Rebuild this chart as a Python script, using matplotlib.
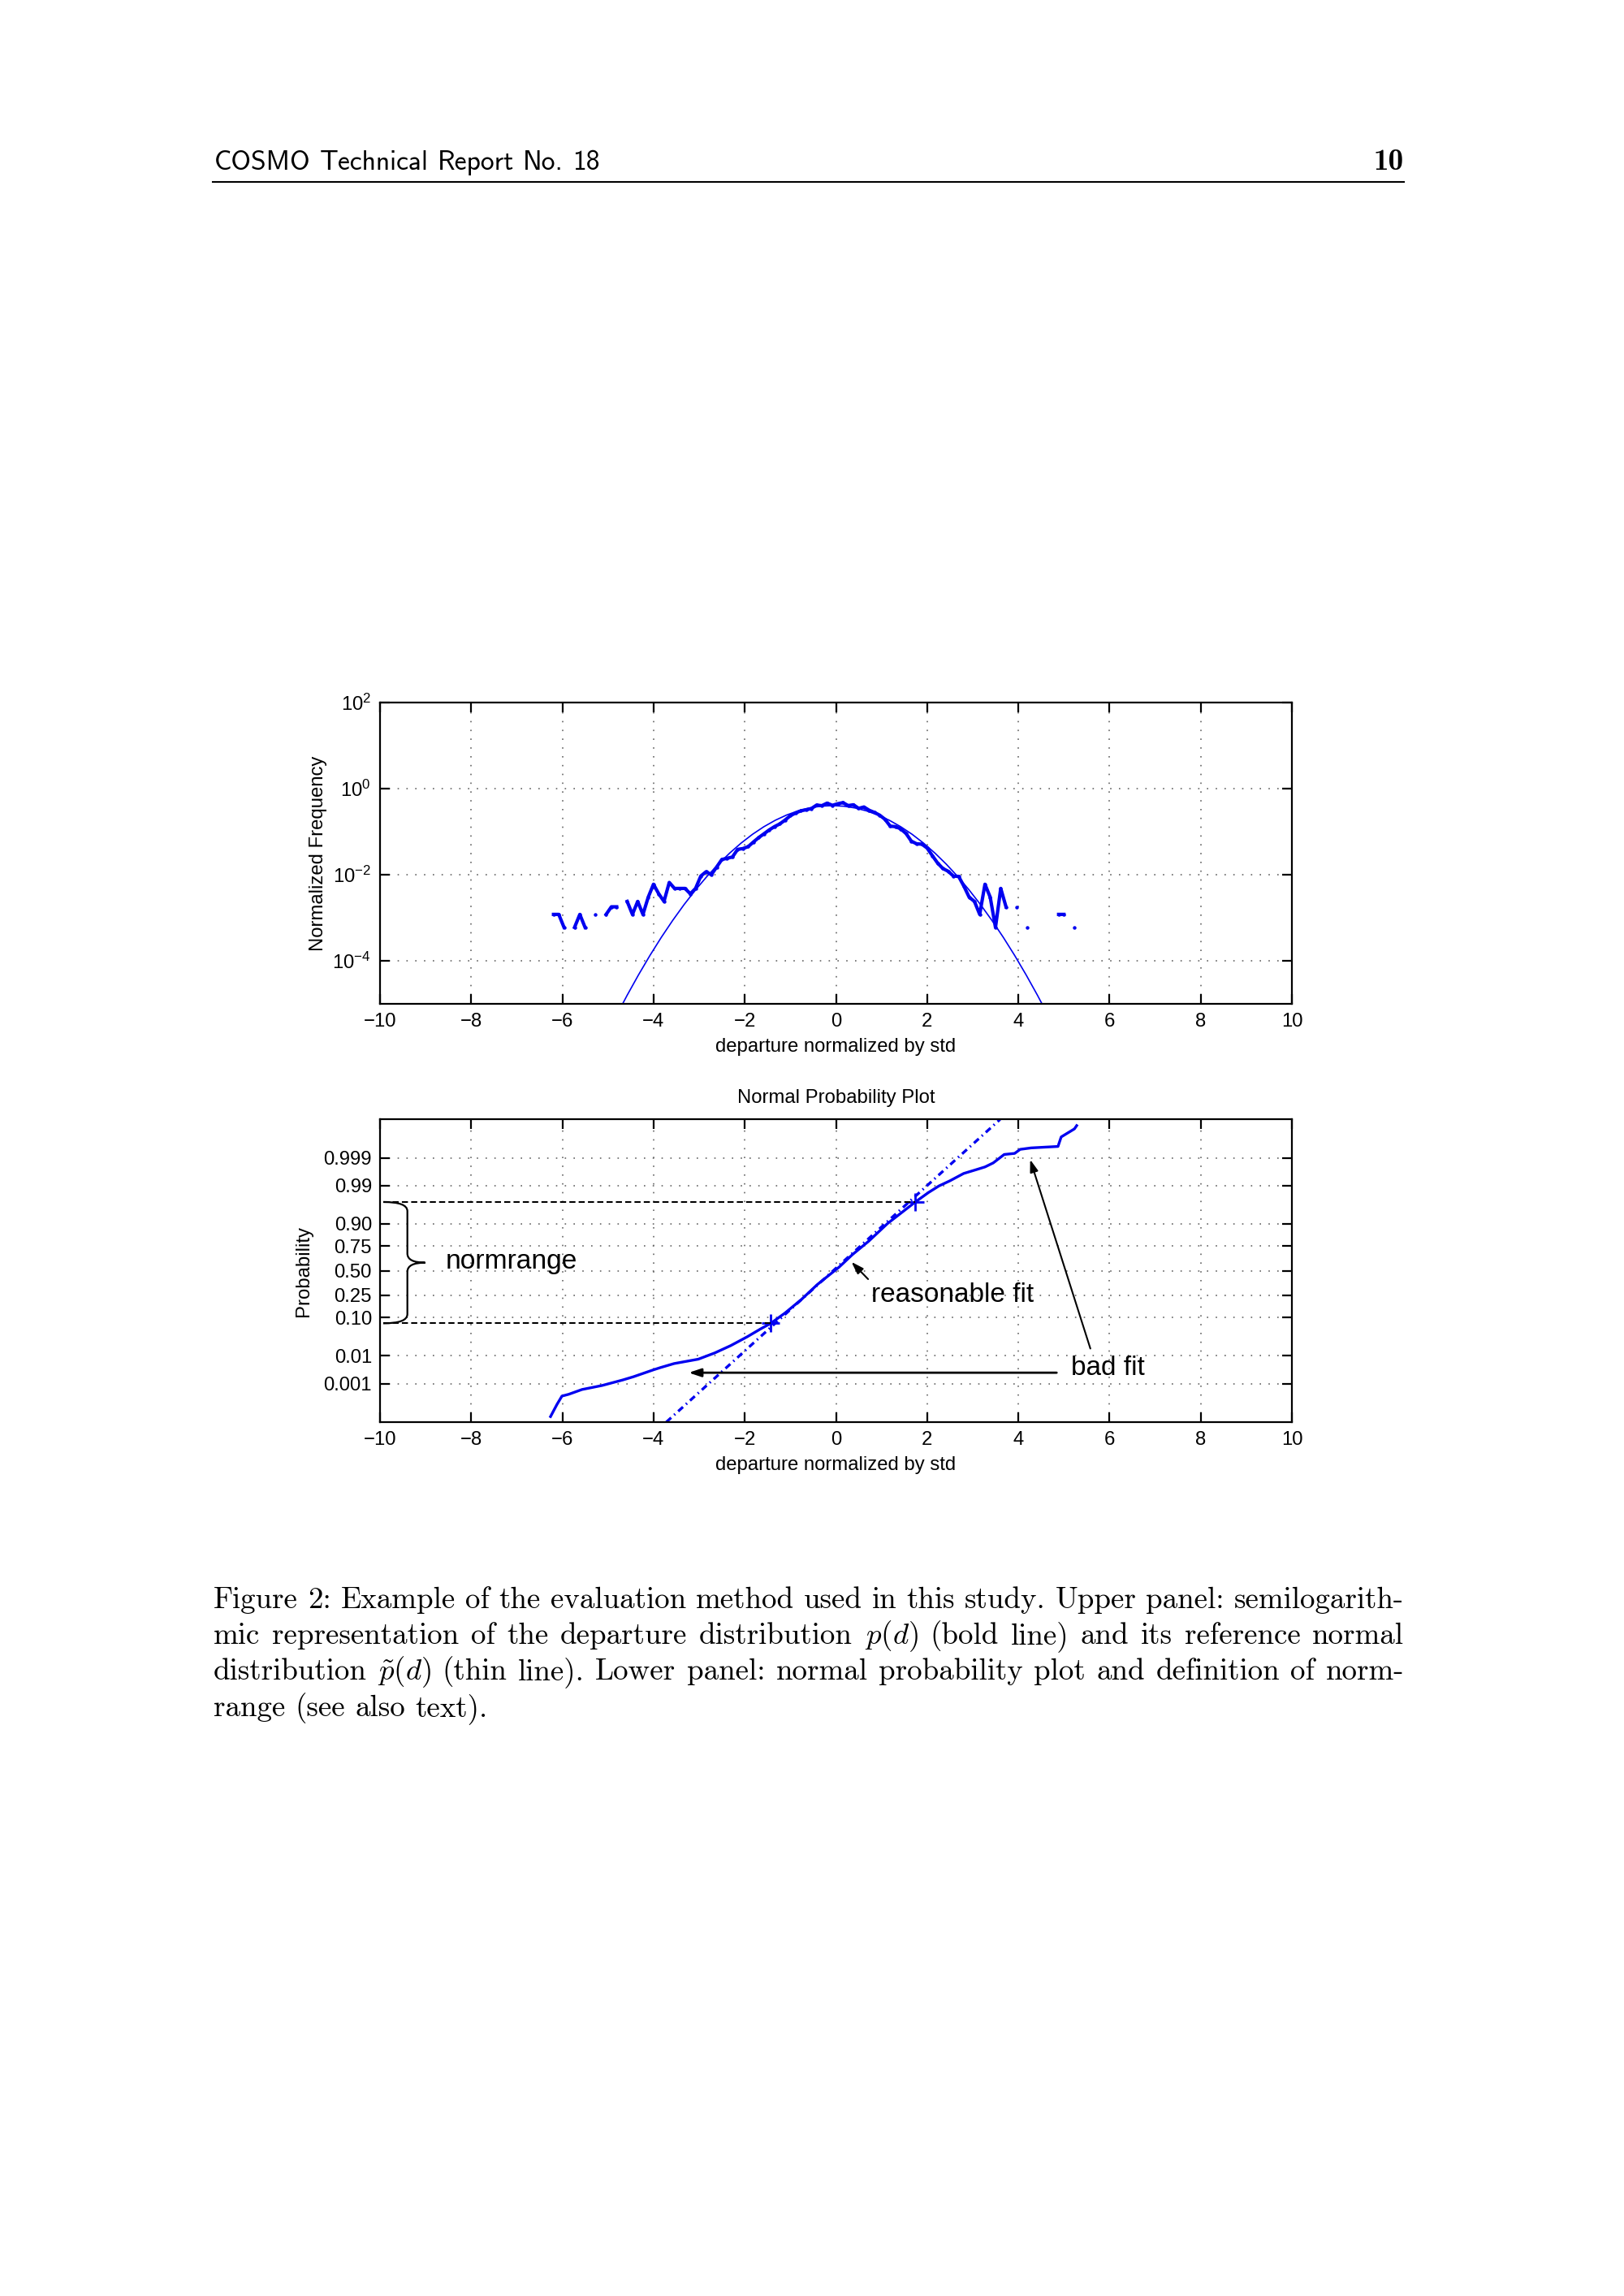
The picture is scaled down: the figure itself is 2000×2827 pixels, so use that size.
import math
import numpy as np
import matplotlib
matplotlib.use('Agg')
import matplotlib.pyplot as plt
from matplotlib.path import Path
from matplotlib.patches import PathPatch
from matplotlib.lines import Line2D
from matplotlib.ticker import FixedLocator, NullLocator, FuncFormatter

plt.rcParams['font.family'] = ['Liberation Sans', 'DejaVu Sans']
plt.rcParams['mathtext.fontset'] = 'custom'
plt.rcParams['mathtext.rm'] = 'Liberation Sans'
plt.rcParams['mathtext.it'] = 'Liberation Sans:italic'
plt.rcParams['mathtext.bf'] = 'Liberation Sans:bold'

# ---- upper panel: histogram of departures (100 bins), empty bins = nan
bin_centers = np.linspace(-6.195, 5.23, 100)
freq = [1.2e-3, 1.2e-3, 6.0e-4, np.nan, 6.0e-4, 1.2e-3, 6.0e-4, np.nan, 1.2e-3, np.nan,
        1.2e-3, 1.8e-3, 1.8e-3, np.nan, 2.4e-3, 1.2e-3, 2.4e-3, 1.2e-3, 3.0e-3, 6.0e-3,
        3.6e-3, 2.4e-3, 6.6e-3, 4.8e-3, 4.8e-3, 4.8e-3, 3.6e-3, 4.8e-3, 9.3e-3, 0.0117,
        0.0100, 0.0150, 0.0225, 0.0240, 0.0257, 0.0386, 0.0403, 0.0447, 0.0573, 0.0724,
        0.0887, 0.109, 0.130, 0.150, 0.184, 0.232, 0.269, 0.302, 0.320, 0.340,
        0.410, 0.398, 0.455, 0.405, 0.440, 0.468, 0.400, 0.417, 0.344, 0.371,
        0.311, 0.277, 0.239, 0.192, 0.133, 0.130, 0.115, 0.090, 0.060, 0.052,
        0.051, 0.0415, 0.0276, 0.0186, 0.0139, 0.0120, 0.0093, 0.0091, 0.0054, 0.0030,
        0.0024, 0.0012, 0.0060, 0.0030, 0.0006, 0.0048, 0.0018, np.nan, 0.0018, np.nan,
        0.0006, np.nan, np.nan, np.nan, np.nan, np.nan, 0.0012, 0.0012, np.nan, 0.0006]

# reference normal distribution (thin line)
ref_x = [-4.83, -4.58, -4.33, -4.08, -3.83, -3.58, -3.33, -3.08, -2.83, -2.58,
         -2.33, -2.08, -1.83, -1.58, -1.33, -1.08, -0.83, -0.58, -0.33, -0.08,
         0.17, 0.42, 0.67, 0.92, 1.17, 1.42, 1.67, 1.92, 2.17, 2.42,
         2.67, 2.92, 3.17, 3.42, 3.67, 3.92, 4.17, 4.42, 4.67]
ref_pdf = [5.03e-6, 1.60e-5, 4.77e-5, 1.34e-4, 3.53e-4, 8.73e-4, 2.03e-3, 4.43e-3, 9.09e-3, 1.75e-2,
           3.17e-2, 5.40e-2, 8.63e-2, 0.1295, 0.1826, 0.2420, 0.3011, 0.3521, 0.3867, 0.3989,
           0.3867, 0.3521, 0.3011, 0.2420, 0.1826, 0.1295, 8.63e-2, 5.40e-2, 3.17e-2, 1.75e-2,
           9.09e-3, 4.43e-3, 2.03e-3, 8.73e-4, 3.53e-4, 1.34e-4, 4.77e-5, 1.60e-5, 5.03e-6]

# ---- lower panel: normal probability plot (y = standard normal quantile)
curve_x = [-6.26, -6.12, -6.01, -5.86, -5.57, -5.13, -4.68, -4.44, -4.0, -3.85,
           -3.55, -3.02, -2.66, -2.31, -1.95, -1.65, -1.43, -1.12, -0.76, -0.41,
           0.07, 0.36, 0.72, 1.13, 1.43, 1.74, 2.03, 2.26, 2.50, 2.80,
           3.09, 3.27, 3.45, 3.69, 3.92, 4.04, 4.28, 4.87, 4.94, 5.23, 5.28]
curve_z = [-3.99, -3.66, -3.43, -3.38, -3.25, -3.14, -2.99, -2.90, -2.71, -2.65,
           -2.54, -2.42, -2.25, -2.05, -1.81, -1.59, -1.44, -1.16, -0.79, -0.38,
           0.10, 0.44, 0.81, 1.29, 1.58, 1.88, 2.14, 2.32, 2.46, 2.66,
           2.77, 2.84, 2.95, 3.18, 3.21, 3.32, 3.36, 3.40, 3.66, 3.88, 3.97]
fit_x = [-3.72, 3.6]
fit_z = [-4.14, 4.14]
normrange_x = [-1.43, 1.74]
normrange_p = [0.075, 0.97]
prob_ticks = [0.001, 0.01, 0.10, 0.25, 0.50, 0.75, 0.90, 0.99, 0.999]
prob_labels = ['0.001', '0.01', '0.10', '0.25', '0.50', '0.75', '0.90', '0.99', '0.999']

caption = [
    "Figure 2: Example of the evaluation method used in this study. Upper panel: semilogarith-",
    r"mic representation of the departure distribution $p(d)$ (bold line) and its reference normal",
    r"distribution $\tilde{p}(d)$ (thin line). Lower panel: normal probability plot and definition of norm-",
    "range (see also text).",
]


def probit(p):
    lo, hi = -10.0, 10.0
    for _ in range(80):
        mid = 0.5 * (lo + hi)
        if 0.5 * (1 + math.erf(mid / math.sqrt(2))) < p:
            lo = mid
        else:
            hi = mid
    return 0.5 * (lo + hi)


BLUE = '#0000f0'
W, H = 2000, 2827
fig = plt.figure(figsize=(10, 14.135), dpi=200)


def fx(px):
    return px / W


def fy(py):
    return 1 - py / H


def style(ax):
    ax.set_xlim(-10, 10)
    ax.xaxis.set_major_locator(FixedLocator(range(-10, 11, 2)))
    ax.tick_params(direction='in', length=4.3, width=0.8, top=True, right=True,
                   labelsize=8.6, pad=4, colors='k')
    ax.tick_params(which='minor', length=0)
    for s in ax.spines.values():
        s.set_linewidth(0.8)
    ax.grid(True, color='0.4', lw=0.6, ls=(0, (1, 5.5)))
    ax.set_axisbelow(True)
    ax.set_xlabel('departure normalized by std', fontsize=8.6, labelpad=3.2)


# upper panel
ax1 = fig.add_axes([fx(468), fy(1236.3), (1591 - 468) / W, (1236.3 - 864.5) / H])
ax1.set_yscale('log')
ax1.plot(ref_x, ref_pdf, color=BLUE, lw=0.6)
ax1.plot(bin_centers, freq, color=BLUE, lw=1.5, marker='o', ms=1.6, mew=0)
ax1.set_ylim(1e-5, 1e2)
ax1.yaxis.set_major_locator(FixedLocator([1e-4, 1e-2, 1e0, 1e2]))
ax1.yaxis.set_minor_locator(NullLocator())
ax1.yaxis.set_major_formatter(FuncFormatter(
    lambda v, pos: r'$\mathregular{10^{%d}}$' % round(math.log10(v))))
style(ax1)
ax1.set_ylabel('Normalized Frequency', fontsize=8.6)
ax1.yaxis.set_label_coords(-0.058, 0.5)

# lower panel
ax2 = fig.add_axes([fx(468), fy(1750.7), (1591 - 468) / W, (1750.7 - 1378.5) / H])
ax2.plot(fit_x, fit_z, color=BLUE, lw=1.2, ls=(0, (2.4, 1.5, 0.5, 1.5)))
ax2.plot(curve_x, curve_z, color=BLUE, lw=1.2)
nr_z = [probit(p) for p in normrange_p]
ax2.plot(normrange_x, nr_z, ls='none', marker='+', ms=8, mew=1.0, color=BLUE)
for xv, zv in zip(normrange_x, nr_z):
    ax2.plot([-9.93, xv], [zv, zv], color='k', lw=0.75, ls=(0, (3.6, 1.9)))
ax2.set_ylim(-4.135, 4.135)
ax2.yaxis.set_major_locator(FixedLocator([probit(p) for p in prob_ticks]))
ax2.set_yticklabels(prob_labels)
style(ax2)
ax2.tick_params(axis='y', pad=3.6)
ax2.set_ylabel('Probability', fontsize=8.6)
ax2.yaxis.set_label_coords(-0.0735, 0.5)
ax2.set_title('Normal Probability Plot', fontsize=8.6, pad=7.4)

# brace marking the normrange
zt, zb = nr_z[1], nr_z[0]
zm = 0.5 * (zt + zb)
x0, xs, xt, r = -9.93, -9.40, -9.01, 0.25
verts = [(x0, zt), (xs, zt), (xs, zt - r), (xs, zm + r), (xs, zm), (xt, zm),
         (xs, zm), (xs, zm - r), (xs, zb + r), (xs, zb), (x0, zb)]
codes = [Path.MOVETO, Path.CURVE3, Path.CURVE3, Path.LINETO, Path.CURVE3, Path.CURVE3,
         Path.CURVE3, Path.CURVE3, Path.LINETO, Path.CURVE3, Path.CURVE3]
ax2.add_patch(PathPatch(Path(verts, codes), fill=False, lw=0.8, color='k'))
ax2.text(-8.57, 0.05, 'normrange', fontsize=12.1, va='baseline')

head = '-|>,head_length=0.45,head_width=0.15'
ax2.annotate('', xy=(0.34, 0.24), xytext=(0.705, -0.23),
             arrowprops=dict(arrowstyle=head, color='k', lw=0.75, mutation_scale=10,
                             shrinkA=0, shrinkB=0))
ax2.text(0.78, -0.85, 'reasonable fit', fontsize=12.0, va='baseline')
ax2.annotate('', xy=(-3.23, -2.79), xytext=(4.84, -2.79),
             arrowprops=dict(arrowstyle=head, color='k', lw=1.0, mutation_scale=10,
                             shrinkA=0, shrinkB=0))
ax2.annotate('', xy=(4.26, 3.04), xytext=(5.58, -2.13),
             arrowprops=dict(arrowstyle=head, color='k', lw=0.75, mutation_scale=10,
                             shrinkA=0, shrinkB=0))
ax2.text(5.16, -2.86, 'bad fit', fontsize=12.0, va='baseline')

# page header and caption
renderer = fig.canvas.get_renderer()


def word_line(words, y_px, left_px, right_px=None, gap_px=None, **kw):
    texts = [fig.text(0, fy(y_px), w, va='baseline', **kw) for w in words]
    widths = [t.get_window_extent(renderer).width for t in texts]
    if right_px is not None:
        gap_px = (right_px - left_px - sum(widths)) / (len(words) - 1)
    x = left_px
    for t, w in zip(texts, widths):
        t.set_x(fx(x))
        x += w + gap_px


word_line('COSMO Technical Report No. 18'.split(), 209, 264, gap_px=11.2,
          family='cmss10', fontsize=12.1)
fig.text(fx(1729), fy(209), '10', family='cmb10', fontsize=13.4, ha='right', va='baseline')
fig.add_artist(Line2D([fx(262), fx(1729)], [fy(224), fy(224)], color='k', lw=0.75))

cap_kw = dict(family='cmr10', fontsize=13.3, math_fontfamily='cm')
for i, line in enumerate(caption):
    y = 1980 + 44.2 * i
    if i < len(caption) - 1:
        word_line(line.split(), y, 263, right_px=1729, **cap_kw)
    else:
        word_line(line.split(), y, 263, gap_px=12.3, **cap_kw)

fig.savefig('out.png', dpi=200)
